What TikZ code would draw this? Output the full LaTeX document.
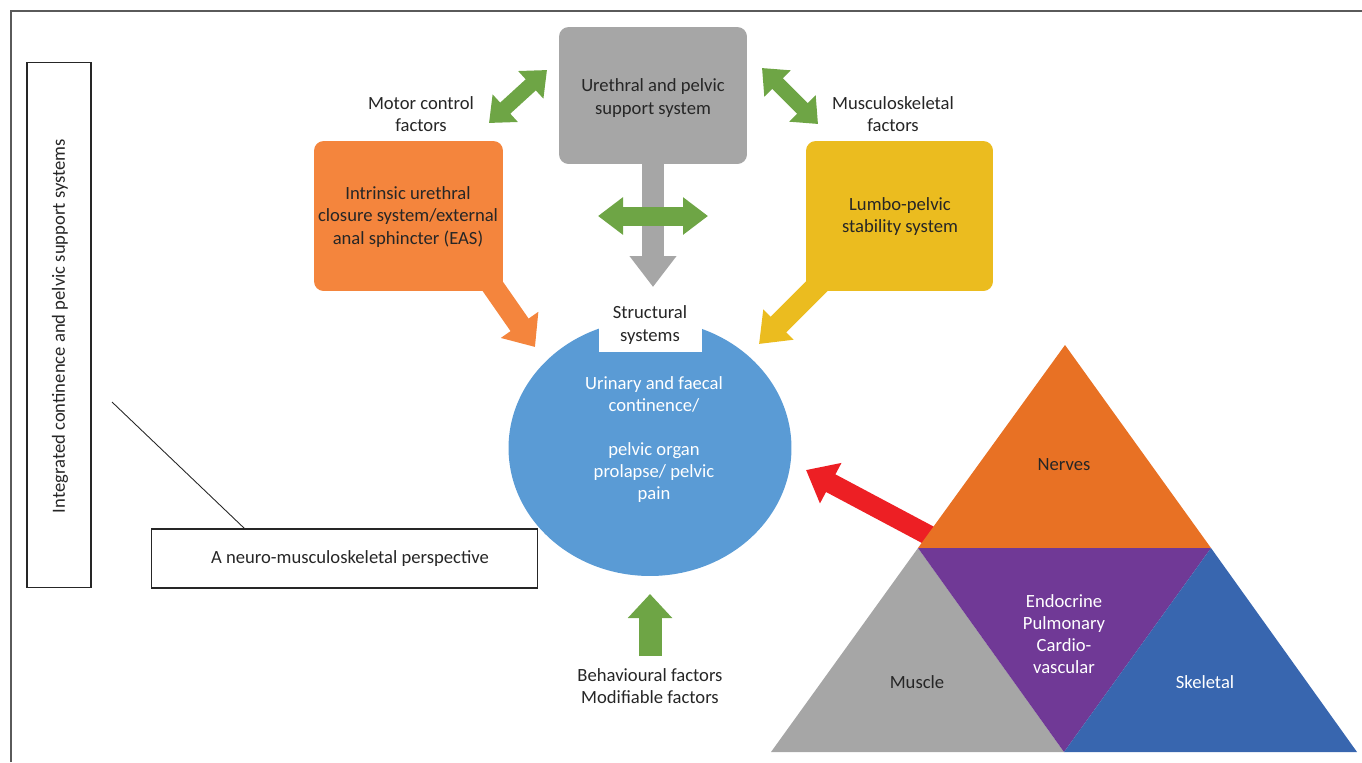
\documentclass[tikz,border=0pt]{standalone}
\usepackage{fontspec}
\setmainfont{Carlito}
\usetikzlibrary{arrows.meta,shapes.geometric}

\definecolor{boxgray}{HTML}{A6A6A6}
\definecolor{boxorange}{HTML}{F4853D}
\definecolor{boxyellow}{HTML}{EBBC1F}
\definecolor{arrowgreen}{HTML}{6EA545}
\definecolor{coreblue}{HTML}{5A9BD5}
\definecolor{arrowred}{HTML}{ED1F24}
\definecolor{nerveorange}{HTML}{E87124}
\definecolor{endopurple}{HTML}{703996}
\definecolor{skelblue}{HTML}{3866AF}
\definecolor{textdark}{HTML}{262626}
\definecolor{framegray}{HTML}{5A5A5A}

\tikzset{
  txt/.style={font=\fontsize{10.6}{12.6}\selectfont, text=textdark, align=center, inner sep=0pt},
  lighttxt/.style={txt, text=white},
  sysbox/.style={rounded corners=5.5pt, minimum width=#1, minimum height=3cm, inner sep=0pt},
  plainbox/.style={draw=textdark, line width=0.6pt, inner sep=0pt},
  diagarrow/.style={arrowgreen, line width=0.3cm,
    {Triangle[length=0.44cm,width=0.72cm]}-{Triangle[length=0.44cm,width=0.72cm]}},
  fatarrow/.style n args={3}{line width=#1, -{Triangle[length=#2,width=#3]}}
}

\begin{document}
\begin{tikzpicture}[x=0.02cm,y=-0.02cm]
 \useasboundingbox (0,0) rectangle (1362,762);
 % frame
 \draw[framegray, line width=1pt] (11,762) |- (1362,11);

 % left labels
 \node[plainbox, minimum width=1.28cm, minimum height=10.52cm] (intbox) at (59,325) {};
 \node[txt, rotate=90] (intlabel) at (60,326) {Integrated continence and pelvic support systems};
 \node[plainbox, minimum width=7.74cm, minimum height=1.18cm] (neurobox) at (344.5,558.5) {};
 \node[txt] (neurolabel) at (350,559) {A neuro-musculoskeletal perspective};
 \coordinate (lead) at (112,402);
 \draw[textdark, line width=0.5pt] (lead) -- ([xshift=1.88cm]neurobox.north west);

 % centre
 \node[ellipse, fill=coreblue, minimum width=5.66cm, minimum height=5.12cm, inner sep=0pt] (core) at (650,448) {};
 \node[lighttxt] (corelabel) at (654,439.5) {Urinary and faecal\\continence/\\[12.6pt]pelvic organ\\prolapse/ pelvic\\pain};
 \node[fill=white, minimum width=2.06cm, minimum height=1.04cm, inner sep=0pt] (structbox) at (650.5,326) {};
 \node[txt] (structlabel) at (650,325) {Structural\\systems};

 % top system
 \draw[boxgray, fatarrow={0.44cm}{0.62cm}{0.9cm}] (653,150) -- (653,287);
 \node[sysbox=3.76cm, minimum height=2.74cm, fill=boxgray] (urethral) at (653,95.5) {};
 \node[txt] (urethrallabel) at (653,98) {Urethral and pelvic\\support system};
 \coordinate (hleft) at (598,216);
 \coordinate (hright) at (708,216);
 \draw[arrowgreen, line width=0.38cm, {Triangle[length=0.5cm,width=0.72cm]}-{Triangle[length=0.5cm,width=0.72cm]}] (hleft) -- (hright);

 % side systems
 \draw[boxorange, fatarrow={0.44cm}{0.54cm}{0.88cm}] (480,268) -- (535,347);
 \node[sysbox=3.78cm, fill=boxorange] (closure) at (408.5,216) {};
 \node[txt] (closurelabel) at (408,217) {Intrinsic urethral\\closure system/external\\anal sphincter (EAS)};
 \draw[boxyellow, fatarrow={0.44cm}{0.55cm}{0.82cm}] (830,273) -- (759,344);
 \node[sysbox=3.74cm, fill=boxyellow] (lumbo) at (899.5,216) {};
 \node[txt] (lumbolabel) at (900,216.5) {Lumbo-pelvic\\stability system};

 \node[txt] (motor) at (421,114) {Motor control\\factors};
 \node[txt] (musc) at (893,114) {Musculoskeletal\\factors};
 \coordinate (ml) at (489,123);
 \coordinate (mr) at (547,70);
 \draw[diagarrow] (ml) -- (mr);
 \coordinate (sl) at (762,68);
 \coordinate (sr) at (818,124);
 \draw[diagarrow] (sl) -- (sr);

 % bottom
 \coordinate (behtail) at (650,656);
 \coordinate (behtip) at (650,594);
 \draw[arrowgreen, fatarrow={0.46cm}{0.48cm}{0.86cm}] (behtail) -- (behtip);
 \node[txt] (behav) at (650,686.5) {Behavioural factors\\Modifiable factors};

 % triangle
 \coordinate (redtail) at (947,545);
 \coordinate (redtip) at (806,470);
 \draw[arrowred, fatarrow={0.4cm}{0.56cm}{0.88cm}] (redtail) -- (redtip);
 \fill[nerveorange] (918,548) -- (1065,345) -- (1211,548) -- cycle;
 \fill[boxgray] (771,752) -- (918,548) -- (1064,752) -- cycle;
 \fill[endopurple] (918,548) -- (1211,548) -- (1064,752) -- cycle;
 \fill[skelblue] (1064,752) -- (1211,548) -- (1357,752) -- cycle;
 \node[txt] (nerves) at (1064,465) {Nerves};
 \node[txt] (muscle) at (917,682) {Muscle};
 \node[lighttxt] (skeletal) at (1205,682) {Skeletal};
 \node[lighttxt] (endo) at (1064,634) {Endocrine\\Pulmonary\\Cardio-\\vascular};
\end{tikzpicture}
\end{document}
